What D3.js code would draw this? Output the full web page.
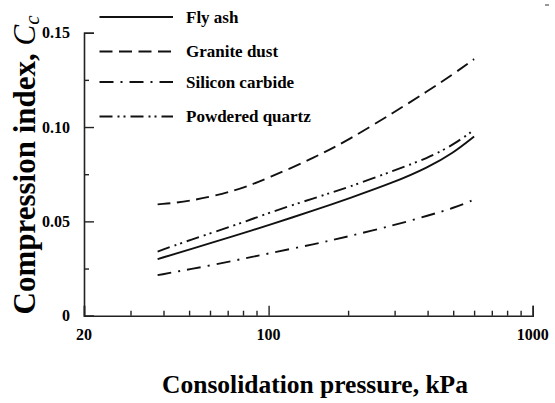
<!DOCTYPE html>
<html lang="en">

<head>
	<meta charset="UTF-8">
	<title>Compression index vs consolidation pressure</title>
	<script src="https://d3js.org/d3.v7.min.js"></script>
	<style>
		body {
			margin: 0;
			background: #fff;
		}
	</style>
</head>

<body>
	<div id="chart"></div>
	<script>
		// values
		const pressure = [38, 50, 75, 100, 150, 200, 300, 400, 500, 600];
		const flyAsh = [0.030, 0.035, 0.0425, 0.048, 0.056, 0.062, 0.0708, 0.0785, 0.0862, 0.095];
		const graniteDust = [0.059, 0.0605, 0.066, 0.073, 0.084, 0.093, 0.108, 0.119, 0.128, 0.136];
		const siliconCarbide = [0.0215, 0.0245, 0.0293, 0.033, 0.038, 0.042, 0.048, 0.053, 0.057, 0.0615];
		const powderedQuartz = [0.034, 0.040, 0.048, 0.0545, 0.0625, 0.068, 0.077, 0.0835, 0.0905, 0.0985];

		const seriesNames = ["Fly ash", "Granite dust", "Silicon carbide", "Powdered quartz"];
		const seriesValues = [flyAsh, graniteDust, siliconCarbide, powderedQuartz];
		const dashes = [null, "13,6.5", "14,7,2,7", "13,5,2,4,2,5"];

		const xMajor = [20, 100, 1000];
		const xMinor = [30, 40, 50, 60, 70, 80, 90, 200, 300, 400, 500, 600, 700, 800, 900];
		const yMajor = [0, 0.05, 0.10, 0.15];
		const yMinor = [0.025, 0.075, 0.125];
		const yLabels = ["0", "0.05", "0.10", "0.15"];

		const width = 555;
		const height = 403;
		const serif = "'Liberation Serif', Tinos, 'Times New Roman', 'DejaVu Serif', serif";

		const x = d3.scaleLog().domain([20, 1000]).range([84, 532.7]);
		const y = d3.scaleLinear().domain([0, 0.15]).range([315.7, 32.7]);

		const svg = d3.select("#chart")
			.append("svg")
			.attr("width", width)
			.attr("height", height)
			.attr("font-family", serif)
			.attr("font-weight", "bold");

		// axes: ticks point inwards, labels drawn separately below
		const xAxis = svg.append("g").attr("transform", `translate(0,${y(0)})`);
		xAxis.call(d3.axisBottom(x).tickValues(xMajor).tickSize(-10).tickFormat(""));
		xAxis.append("g").call(d3.axisBottom(x).tickValues(xMinor).tickSize(-5).tickFormat(""))
			.select(".domain").remove();

		const yAxis = svg.append("g").attr("transform", `translate(${x(20)},0)`);
		yAxis.call(d3.axisLeft(y).tickValues(yMajor).tickSize(-10).tickFormat(""));
		yAxis.append("g").call(d3.axisLeft(y).tickValues(yMinor).tickSize(-5).tickFormat(""))
			.select(".domain").remove();

		svg.selectAll(".domain").attr("stroke", "#222").attr("stroke-width", 1.6);
		svg.selectAll(".tick line").attr("stroke", "#222").attr("stroke-width", 1.4);

		svg.selectAll(".xlab")
			.data(xMajor)
			.enter()
			.append("text")
			.attr("x", d => x(d))
			.attr("y", 340)
			.attr("text-anchor", "middle")
			.attr("font-family", serif)
			.style("font-size", "16px")
			.text(d => d);

		svg.selectAll(".ylab")
			.data(yMajor)
			.enter()
			.append("text")
			.attr("x", 70)
			.attr("y", d => y(d) + 5.5)
			.attr("text-anchor", "end")
			.attr("font-family", serif)
			.style("font-size", "16px")
			.text((d, i) => yLabels[i]);

		// axis titles
		svg.append("text")
			.attr("x", 315)
			.attr("y", 393)
			.attr("text-anchor", "middle")
			.attr("font-family", serif)
			.style("font-size", "25.5px")
			.text("Consolidation pressure, kPa");

		const yTitle = svg.append("text")
			.attr("transform", "translate(35,165) rotate(-90)")
			.attr("text-anchor", "middle")
			.attr("font-family", serif)
			.style("font-size", "31px");
		yTitle.append("tspan").text("Compression index, ");
		yTitle.append("tspan").style("font-style", "italic").style("font-weight", "normal").text("C");
		yTitle.append("tspan").style("font-style", "italic").style("font-weight", "normal")
			.style("font-size", "21px").attr("dy", 4).text("c");

		// curves
		const line = d3.line()
			.x(d => x(d[0]))
			.y(d => y(d[1]))
			.curve(d3.curveBasis);

		seriesValues.forEach((vals, i) => {
			svg.append("path")
				.datum(pressure.map((p, j) => [p, vals[j]]))
				.attr("d", line)
				.attr("fill", "none")
				.attr("stroke", "#111")
				.attr("stroke-width", 1.9)
				.attr("stroke-dasharray", dashes[i]);
		});

		// legend
		const legendY = [17, 51.5, 82, 116.5];
		const legend = svg.selectAll(".legend")
			.data(seriesNames)
			.enter()
			.append("g")
			.attr("transform", (d, i) => `translate(0,${legendY[i]})`);

		legend.append("line")
			.attr("x1", 99.5)
			.attr("x2", 173)
			.attr("stroke", "#111")
			.attr("stroke-width", 1.9)
			.attr("stroke-dasharray", (d, i) => dashes[i]);

		legend.append("text")
			.attr("x", 186)
			.attr("y", 5.5)
			.attr("font-family", serif)
			.style("font-size", "17px")
			.text(d => d);

		// stray mark in the top right corner of the scan
		svg.append("line")
			.attr("x1", 545).attr("x2", 549)
			.attr("y1", 5).attr("y2", 5)
			.attr("stroke", "#333");
	</script>
</body>

</html>
